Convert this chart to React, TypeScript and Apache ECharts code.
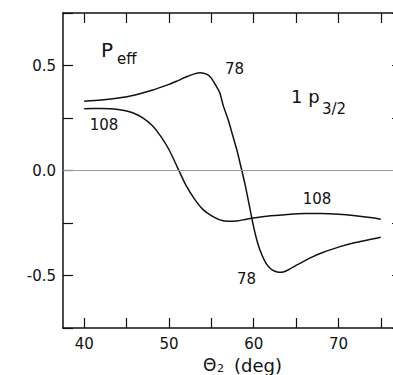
import React, { useEffect, useRef } from "react";
import * as echarts from "echarts";

const theta78 = [40, 42, 44, 46, 48, 50, 51, 52, 53, 53.7, 54.5, 55, 55.6, 56, 56.4, 57, 57.5, 58, 58.6, 59, 59.5, 60, 60.5, 61, 61.5, 62, 62.5, 63, 63.5, 64, 65, 66, 67, 68, 70, 72, 74, 75];
const p78 = [0.33, 0.336, 0.345, 0.36, 0.382, 0.41, 0.427, 0.445, 0.46, 0.466, 0.458, 0.44, 0.4, 0.37, 0.31, 0.24, 0.17, 0.1, 0.0, -0.07, -0.17, -0.27, -0.35, -0.405, -0.445, -0.468, -0.48, -0.485, -0.483, -0.475, -0.452, -0.43, -0.41, -0.393, -0.365, -0.343, -0.326, -0.318];

const theta108 = [40, 42, 43, 44, 45, 46, 47, 48, 49, 50, 51, 52, 53, 54, 55, 56, 57, 58, 59, 60, 62, 64, 66, 68, 70, 72, 74, 75];
const p108 = [0.294, 0.295, 0.294, 0.29, 0.283, 0.27, 0.248, 0.215, 0.165, 0.1, 0.015, -0.07, -0.135, -0.185, -0.215, -0.235, -0.242, -0.24, -0.233, -0.226, -0.216, -0.209, -0.205, -0.205, -0.208, -0.215, -0.225, -0.232];

const xTicks = [40, 45, 50, 55, 60, 65, 70, 75];
const xLabels = [40, 50, 60, 70];
const yLabels = [-0.5, 0, 0.5];

const FONT = "DejaVu Sans";
const INK = "#111";

export default function App() {
  const ref = useRef<HTMLDivElement>(null);
  useEffect(() => {
    if (!ref.current) return;
    const chart = echarts.init(ref.current, undefined, { renderer: "svg" });
    const axisLine = { show: true, onZero: false, lineStyle: { color: INK, width: 1.5 } };
    const axisTick = { show: true, inside: true, length: 10, lineStyle: { color: INK, width: 1.2 } };
    const xBase = { type: "value", min: 37.5, max: 77.5, axisLine, splitLine: { show: false } };
    const yBase = { type: "value", min: -0.75, max: 0.75, interval: 0.25, axisLine, axisTick, splitLine: { show: false } };
    chart.setOption({
      animation: false,
      backgroundColor: "#fff",
      grid: { left: 63, top: 13, width: 339, height: 315, outerBoundsMode: "none", containLabel: false },
      xAxis: [
        {
          ...xBase,
          position: "bottom",
          axisTick: { ...axisTick, customValues: xTicks },
          axisLabel: {
            customValues: xLabels,
            color: INK,
            fontFamily: FONT,
            fontSize: 15,
            margin: 8,
          },
        },
        {
          ...xBase,
          position: "top",
          axisTick: { ...axisTick, customValues: xTicks },
          axisLabel: { show: false },
        },
      ],
      yAxis: [
        {
          ...yBase,
          position: "left",
          axisLabel: {
            customValues: yLabels,
            formatter: (v: number) => v.toFixed(1),
            color: INK,
            fontFamily: FONT,
            fontSize: 15,
            margin: 7,
          },
        },
        {
          ...yBase,
          position: "right",
          axisLabel: { show: false },
        },
      ],
      series: [
        {
          name: "78",
          type: "line",
          data: theta78.map((t, i) => [t, p78[i]]),
          smooth: 0.25,
          showSymbol: false,
          lineStyle: { color: INK, width: 1.5 },
          markLine: {
            silent: true,
            symbol: "none",
            label: { show: false },
            lineStyle: { color: "#999", width: 1, type: "solid" },
            data: [{ yAxis: 0 }],
          },
        },
        {
          name: "108",
          type: "line",
          data: theta108.map((t, i) => [t, p108[i]]),
          smooth: 0.25,
          showSymbol: false,
          lineStyle: { color: INK, width: 1.5 },
        },
      ],
      graphic: [
        { type: "text", left: 101, top: 40, style: { text: "P", font: `20px "${FONT}"`, fill: INK } },
        { type: "text", left: 117, top: 51, style: { text: "eff", font: `15px "${FONT}"`, fill: INK } },
        { type: "text", x: 234.5, y: 68.5, style: { text: "78", font: `15px "${FONT}"`, fill: INK, align: "center", verticalAlign: "middle" } },
        { type: "text", left: 291, top: 87, style: { text: "1 p", font: `18px "${FONT}"`, fill: INK } },
        { type: "text", left: 322, top: 101, style: { text: "3/2", font: `15px "${FONT}"`, fill: INK } },
        { type: "text", x: 104, y: 124.5, style: { text: "108", font: `15px "${FONT}"`, fill: INK, align: "center", verticalAlign: "middle" } },
        { type: "text", x: 317, y: 199, style: { text: "108", font: `15px "${FONT}"`, fill: INK, align: "center", verticalAlign: "middle" } },
        { type: "text", x: 246.5, y: 278.5, style: { text: "78", font: `15px "${FONT}"`, fill: INK, align: "center", verticalAlign: "middle" } },
        { type: "text", left: 203, top: 356, style: { text: "Θ", font: `17px "${FONT}"`, fill: INK } },
        { type: "text", left: 217, top: 363, style: { text: "2", font: `11px "${FONT}"`, fill: INK } },
        { type: "text", left: 234, top: 356, style: { text: "(deg)", font: `18px "${FONT}"`, fill: INK } },
      ],
    });
    return () => chart.dispose();
  }, []);
  return <div ref={ref} style={{ position: "fixed", left: 0, top: 0, width: 393, height: 375 }} />;
}
